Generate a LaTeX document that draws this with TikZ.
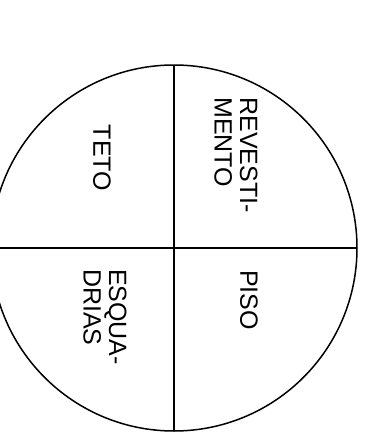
\documentclass[tikz,border=0pt]{standalone}
\usepackage{fontspec}
\setmainfont{Liberation Sans}
\usepackage{tikz}
\usetikzlibrary{positioning}
\tikzset{
  rotulo/.style={rotate=-90, align=left, inner sep=0pt,
                 font=\fontsize{25}{25.5}\selectfont},
  traco/.style={line width=1.5pt, draw=black},
}

\begin{document}
\begin{tikzpicture}[x=1pt, y=-1pt]
        \clip (0,0) rectangle (383,445);
        \coordinate (c) at (174,248);
        \draw[traco] (c) circle[radius=183];
        \draw[traco] (174,65) -- (174,431);
        \draw[traco] (-9,248) -- (357,248);
        \node[rotulo] (teto) at (102,158) {TETO};
        \node[rotulo] (revest) at (236,155) {REVESTI-\\MENTO};
        \node[rotulo] (piso) at (249,300) {PISO};
        \node[rotulo] (esqua) at (105,317) {ESQUA-\\DRIAS};
      \end{tikzpicture}
\end{document}
